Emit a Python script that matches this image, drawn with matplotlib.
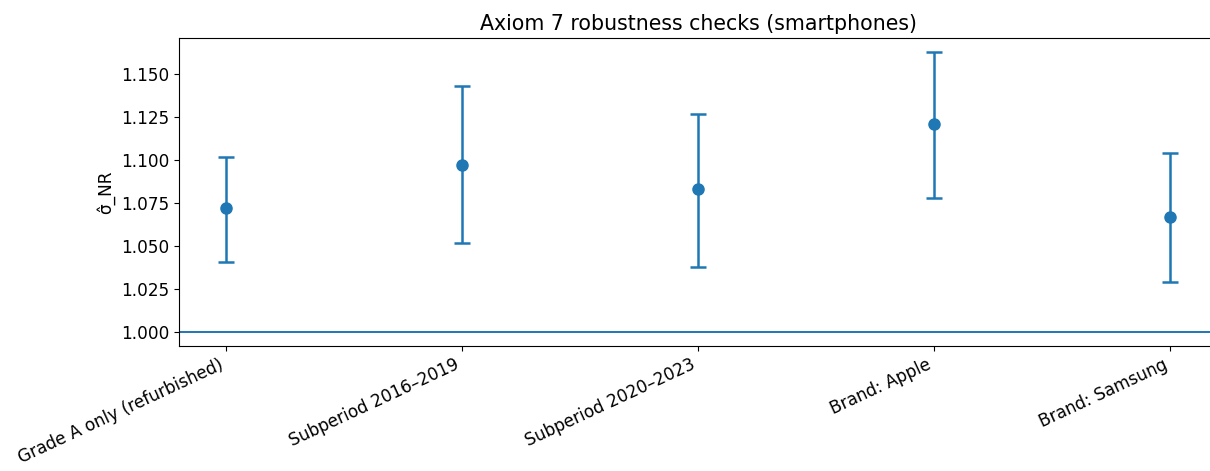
import matplotlib
matplotlib.use('Agg')
import matplotlib.pyplot as plt
from matplotlib.ticker import MultipleLocator, FormatStrFormatter

labels = ['Grade A only (refurbished)', 'Subperiod 2016–2019', 'Subperiod 2020–2023',
          'Brand: Apple', 'Brand: Samsung']
estimates = [1.072, 1.097, 1.083, 1.121, 1.067]
ci_low = [1.041, 1.052, 1.038, 1.078, 1.029]
ci_high = [1.102, 1.143, 1.127, 1.163, 1.104]

err_low = [e - l for e, l in zip(estimates, ci_low)]
err_high = [h - e for e, h in zip(estimates, ci_high)]

plt.rcParams['font.size'] = 12.2

fig = plt.figure(figsize=(12.1, 4.71), dpi=100)
# axes runs past the right edge, like the cropped original
ax = fig.add_axes([179 / 1210, 125 / 471, 1038 / 1210, 308 / 471])
x = list(range(len(labels)))
ax.errorbar(x, estimates, yerr=[err_low, err_high], fmt='o', capsize=6,
            elinewidth=1.8, capthick=1.8, markersize=8, color='#1f77b4')
ax.axhline(1.0, color='#1f77b4', linewidth=1.4)
ax.set_xticks(x)
ax.set_xticklabels(labels, rotation=25, ha='right')
ax.yaxis.set_major_locator(MultipleLocator(0.025))
ax.yaxis.set_major_formatter(FormatStrFormatter('%.3f'))
ax.spines['right'].set_visible(False)
ax.set_ylabel('σ̂_NR')
ax.set_title('Axiom 7 robustness checks (smartphones)', fontsize=14.8)
fig.savefig('out.png', dpi=100)
